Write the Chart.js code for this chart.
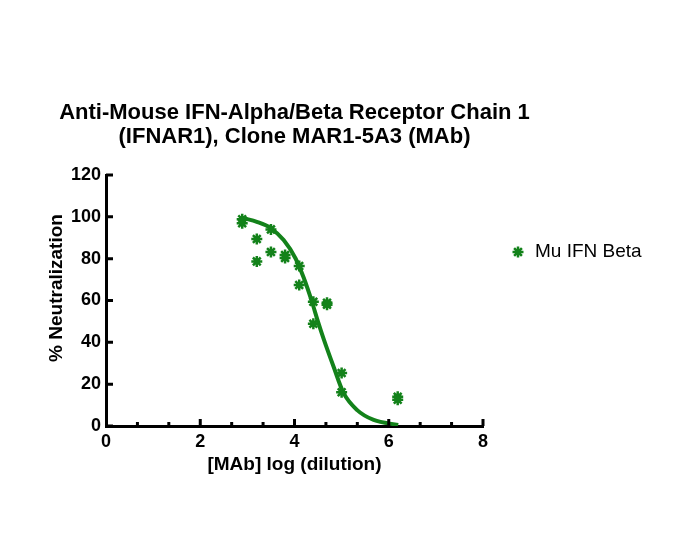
<!DOCTYPE html>
<html lang="en">
<head>
<meta charset="UTF-8">
<title>IFNAR1 neutralization</title>
<script src="https://cdn.jsdelivr.net/npm/chart.js"></script>
<style>
  html, body { margin: 0; padding: 0; background: #fff; }
  #wrap { width: 690px; height: 550px; }
</style>
</head>
<body>
<div id="wrap"><canvas id="chart" width="690" height="550"></canvas></div>
<script>
// measured points (log dilution vs % neutralization)
const doseLog = [2.89, 2.89, 3.2, 3.2, 3.5, 3.5, 3.8, 3.8, 4.1, 4.1, 4.4, 4.4, 4.69, 4.69, 5.0, 5.0, 6.19, 6.19];
const neutPct = [98.8, 96.9, 89.4, 78.7, 94.0, 83.2, 81.7, 80.3, 76.5, 67.4, 59.4, 48.9, 58.9, 58.0, 25.3, 16.1, 14.0, 12.6];

// fitted curve
const fitX = [2.93, 3.2, 3.5, 3.77, 4.02, 4.2, 4.37, 4.49, 4.62, 4.83, 5.04, 5.33, 5.68, 6.2];
const fitY = [99.3, 97.6, 94.5, 88.9, 80.2, 70.6, 59.4, 50.5, 41.5, 28.3, 15.8, 7.6, 2.9, 0.5];

const xTickLabels = [0, 2, 4, 6, 8];
const yTickLabels = [0, 20, 40, 60, 80, 100, 120];
const xMinorTicks = [0.667, 1.333, 2.667, 3.333, 4.667, 5.333, 6.667, 7.333];

const seriesName = 'Mu IFN Beta';
const titleLines = ['Anti-Mouse IFN-Alpha/Beta Receptor Chain 1', '(IFNAR1), Clone MAR1-5A3 (MAb)'];
const xTitle = '[MAb] log (dilution)';
const yTitle = '% Neutralization';

const green = '#13821a';
const FONT = '"Liberation Sans", Arial, sans-serif';

// draws inward ticks, titles and the legend
const decorations = {
    id: 'decorations',
    afterDraw(chart) {
        const ctx = chart.ctx;
        const xs = chart.scales.x, ys = chart.scales.y;
        const area = chart.chartArea;
        ctx.save();
        ctx.strokeStyle = '#000';
        ctx.lineWidth = 3;
        ctx.beginPath();
        yTickLabels.forEach(v => {
            const py = ys.getPixelForValue(v);
            ctx.moveTo(area.left, py);
            ctx.lineTo(area.left + 7, py);
        });
        xTickLabels.forEach(v => {
            if (v === 0) return;
            const px = xs.getPixelForValue(v);
            ctx.moveTo(px, area.bottom);
            ctx.lineTo(px, area.bottom - 7);
        });
        xMinorTicks.forEach(v => {
            const px = xs.getPixelForValue(v);
            ctx.moveTo(px, area.bottom);
            ctx.lineTo(px, area.bottom - 4);
        });
        ctx.stroke();

        const cx = (area.left + area.right) / 2;
        ctx.fillStyle = '#000';
        ctx.textAlign = 'center';
        ctx.textBaseline = 'middle';
        ctx.font = 'bold 22px ' + FONT;
        ctx.fillText(titleLines[0], cx, 113);
        ctx.fillText(titleLines[1], cx, 137);

        ctx.font = 'bold 19px ' + FONT;
        ctx.fillText(xTitle, cx, 465);
        ctx.save();
        ctx.translate(57, 288);
        ctx.rotate(-Math.PI / 2);
        ctx.fillText(yTitle, 0, 0);
        ctx.restore();

        // legend
        const ds = chart.data.datasets[0];
        ctx.strokeStyle = green;
        ctx.lineWidth = 2.5;
        Chart.helpers.drawPoint(ctx, {pointStyle: 'star', radius: 5.5, rotation: 0, borderWidth: 2.5}, 518, 252);
        ctx.fillStyle = '#000';
        ctx.textAlign = 'left';
        ctx.font = '19px ' + FONT;
        ctx.fillText(ds.label, 535, 252);
        ctx.restore();
    }
};

new Chart(document.getElementById('chart'), {
    type: 'scatter',
    data: {
        datasets: [
            {
                label: seriesName,
                data: doseLog.map((x, i) => ({x: x, y: neutPct[i]})),
                pointStyle: 'star',
                pointRadius: 5.5,
                pointBorderWidth: 2.5,
                borderColor: green,
                backgroundColor: green,
                showLine: false
            },
            {
                label: 'fit',
                data: fitX.map((x, i) => ({x: x, y: fitY[i]})),
                showLine: true,
                borderColor: green,
                borderWidth: 4,
                pointRadius: 0,
                cubicInterpolationMode: 'monotone'
            }
        ]
    },
    options: {
        responsive: false,
        animation: false,
        devicePixelRatio: 1,
        layout: { padding: { top: 175, right: 207, left: 0, bottom: 0 } },
        plugins: {
            legend: { display: false },
            title: { display: false },
            tooltip: { enabled: false }
        },
        scales: {
            x: {
                type: 'linear',
                min: 0, max: 8,
                afterFit(scale) { scale.height = 124; },
                afterBuildTicks(scale) { scale.ticks = xTickLabels.map(v => ({value: v})); },
                border: { color: '#000', width: 3 },
                grid: { display: true, drawOnChartArea: false, drawTicks: false },
                ticks: { color: '#000', padding: 5, font: { family: FONT, size: 18, weight: 'bold' } }
            },
            y: {
                type: 'linear',
                min: 0, max: 120,
                afterFit(scale) { scale.width = 106; },
                afterBuildTicks(scale) { scale.ticks = yTickLabels.map(v => ({value: v})); },
                border: { color: '#000', width: 3 },
                grid: { display: true, drawOnChartArea: false, drawTicks: false },
                ticks: { color: '#000', padding: 5, font: { family: FONT, size: 18, weight: 'bold' } }
            }
        }
    },
    plugins: [decorations]
});
</script>
</body>
</html>
